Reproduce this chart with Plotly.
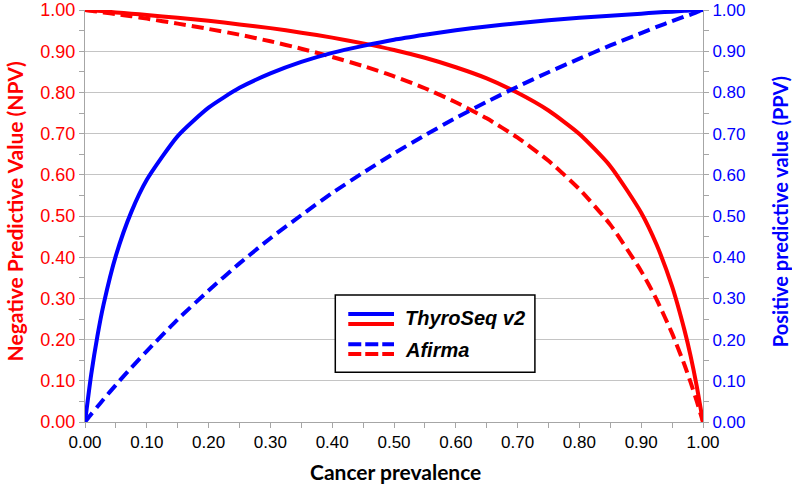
import plotly.graph_objects as go

prevalence = [0, 0.01, 0.02, 0.03, 0.05, 0.075, 0.1, 0.15, 0.2, 0.25, 0.3, 0.35, 0.4, 0.45,
              0.5, 0.55, 0.6, 0.65, 0.7, 0.75, 0.8, 0.85, 0.9, 0.925, 0.95, 0.97, 0.98, 0.99, 1.0]

thyroseq_npv = [1.0, 0.999, 0.998, 0.997, 0.994, 0.991, 0.988, 0.981, 0.974, 0.965, 0.956, 0.945,
                0.933, 0.919, 0.903, 0.884, 0.861, 0.834, 0.799, 0.756, 0.699, 0.621, 0.508,
                0.430, 0.329, 0.223, 0.160, 0.086, 0.0]
afirma_npv = [1.0, 0.998, 0.996, 0.994, 0.990, 0.985, 0.979, 0.967, 0.954, 0.940, 0.924, 0.906,
              0.886, 0.864, 0.839, 0.810, 0.776, 0.737, 0.690, 0.634, 0.565, 0.479, 0.366,
              0.297, 0.215, 0.139, 0.096, 0.050, 0.0]
thyroseq_ppv = [0.0, 0.115, 0.208, 0.285, 0.404, 0.510, 0.588, 0.694, 0.763, 0.811, 0.846, 0.874,
                0.896, 0.913, 0.928, 0.940, 0.951, 0.960, 0.968, 0.975, 0.981, 0.986, 0.991,
                0.994, 0.996, 0.998, 0.999, 0.999, 1.0]
afirma_ppv = [0.0, 0.019, 0.037, 0.055, 0.090, 0.132, 0.172, 0.249, 0.319, 0.385, 0.446, 0.502,
              0.556, 0.605, 0.652, 0.696, 0.738, 0.777, 0.814, 0.849, 0.882, 0.914, 0.944,
              0.959, 0.973, 0.984, 0.989, 0.995, 1.0]

series_names = ["ThyroSeq v2", "Afirma"]
tick_vals = [i / 10 for i in range(11)]
tick_text = [f"{v:.2f}" for v in tick_vals]

RED = "rgb(255,0,0)"
BLUE = "rgb(0,0,255)"
DASH = "12px,6px"
LW = 4

fig = go.Figure()
fig.add_trace(go.Scatter(x=prevalence, y=thyroseq_npv, mode="lines", name="ThyroSeq v2 NPV",
                         line=dict(color=RED, width=LW, shape="spline", smoothing=0.6),
                         showlegend=False, yaxis="y"))
fig.add_trace(go.Scatter(x=prevalence, y=afirma_npv, mode="lines", name="Afirma NPV",
                         line=dict(color=RED, width=LW, dash=DASH, shape="spline", smoothing=0.6),
                         showlegend=False, yaxis="y"))
fig.add_trace(go.Scatter(x=prevalence, y=thyroseq_ppv, mode="lines", name="ThyroSeq v2 PPV",
                         line=dict(color=BLUE, width=LW, shape="spline", smoothing=0.6),
                         showlegend=False, yaxis="y2"))
fig.add_trace(go.Scatter(x=prevalence, y=afirma_ppv, mode="lines", name="Afirma PPV",
                         line=dict(color=BLUE, width=LW, dash=DASH, shape="spline", smoothing=0.6),
                         showlegend=False, yaxis="y2"))

GRID = "#c4c4c4"
AXIS = "#a6a6a6"
TICKFONT = "Liberation Sans, Arial, sans-serif"
TITLEFONT = "Lato, Open Sans, sans-serif"

fig.update_layout(
    width=792, height=485,
    margin=dict(l=85, r=89, t=10, b=63, autoexpand=False),
    paper_bgcolor="white", plot_bgcolor="white",
    showlegend=False,
    xaxis=dict(range=[0, 1], tickvals=tick_vals, ticktext=tick_text, showgrid=False,
               zeroline=False, showline=True, linecolor=AXIS, linewidth=1, automargin=False,
               ticks="outside", ticklen=5, tickcolor=AXIS,
               minor=dict(dtick=0.05, tick0=0, ticks="outside", ticklen=5, tickcolor=AXIS, showgrid=False),
               tickfont=dict(family=TICKFONT, size=17, color="black")),
    yaxis=dict(range=[0, 1], tickvals=tick_vals, ticktext=tick_text, showgrid=True, gridcolor=GRID,
               zeroline=False, showline=True, linecolor=AXIS, linewidth=1, automargin=False,
               ticks="outside", ticklen=5, tickcolor=AXIS,
               minor=dict(dtick=0.05, tick0=0, ticks="outside", ticklen=5, tickcolor=AXIS, showgrid=False),
               tickfont=dict(family=TICKFONT, size=18, color=RED)),
    yaxis2=dict(range=[0, 1], overlaying="y", side="right", tickvals=tick_vals, ticktext=tick_text,
                showgrid=False, zeroline=False, showline=True, linecolor=AXIS, linewidth=1,
                automargin=False, ticks="outside", ticklen=5, tickcolor=AXIS,
                minor=dict(dtick=0.05, tick0=0, ticks="outside", ticklen=5, tickcolor=AXIS, showgrid=False),
                tickfont=dict(family=TICKFONT, size=17, color=BLUE)),
)

# axis titles
fig.add_annotation(text="<b>Negative Predictive Value (NPV)</b>", textangle=-90,
                   xref="paper", yref="paper", x=-0.114, y=0.51, xanchor="center", yanchor="middle",
                   showarrow=False, font=dict(family=TITLEFONT, size=21, color=RED))
fig.add_annotation(text="<b>Positive predictive value (PPV)</b>", textangle=-90,
                   xref="paper", yref="paper", x=1.125, y=0.51, xanchor="center", yanchor="middle",
                   showarrow=False, font=dict(family=TITLEFONT, size=20, color=BLUE))
fig.add_annotation(text="<b>Cancer prevalence</b>", xref="paper", yref="paper",
                   x=0.502, y=-0.085, xanchor="center", yanchor="top",
                   showarrow=False, font=dict(family=TITLEFONT, size=21, color="black"))

# custom legend box
fig.add_shape(type="rect", xref="paper", yref="paper", x0=0.405, x1=0.728, y0=0.121, y1=0.308,
              line=dict(color="black", width=1.5), fillcolor="white", layer="above")
legend_rows = [(0.262, 0.238, 0.252, None), (0.189, 0.165, 0.175, "13px,4px")]
for name, (yb, yr, yt, dash) in zip(series_names, legend_rows):
    fig.add_shape(type="line", xref="paper", yref="paper", x0=0.426, x1=0.500, y0=yb, y1=yb,
                  line=dict(color=BLUE, width=LW, dash=dash or "solid"), layer="above")
    fig.add_shape(type="line", xref="paper", yref="paper", x0=0.426, x1=0.500, y0=yr, y1=yr,
                  line=dict(color=RED, width=LW, dash=dash or "solid"), layer="above")
    fig.add_annotation(text=f"<b><i>{name}</i></b>", xref="paper", yref="paper", x=0.514, y=yt,
                       xanchor="left", yanchor="middle", showarrow=False,
                       font=dict(family="Liberation Sans, Arial, sans-serif", size=20, color="black"))

fig.write_html("out.html", config={"displayModeBar": False},
               post_script="document.body.style.margin='0';")
